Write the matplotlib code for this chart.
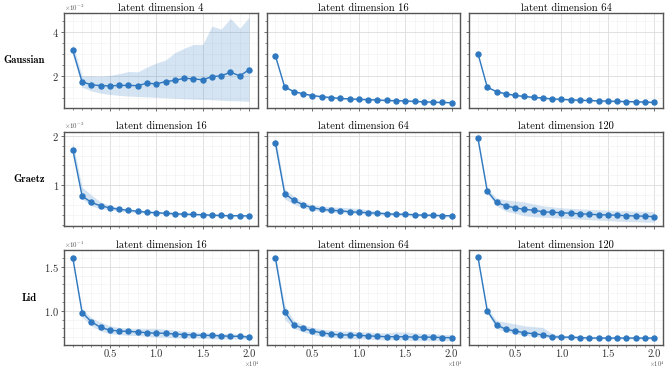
import numpy as np
import matplotlib
matplotlib.use('Agg')
import matplotlib.pyplot as plt
from matplotlib.ticker import AutoMinorLocator, MultipleLocator, FixedLocator

# training set sizes
sizes = [1000, 2000, 3000, 4000, 5000, 6000, 7000, 8000, 9000, 10000,
         11000, 12000, 13000, 14000, 15000, 16000, 17000, 18000, 19000, 20000]

datasets = ['Gaussian', 'Graetz', 'Lid']
dims = [[4, 16, 64], [16, 64, 120], [16, 64, 120]]
exponents = [-2, -2, -1]
ytick_steps = [2, 1, 0.5]
xtick_values = [0.5, 1.0, 1.5, 2.0]

# Gaussian (x1e-2)
gauss4_mean = [3.16, 1.73, 1.60, 1.56, 1.55, 1.57, 1.57, 1.56, 1.67, 1.64,
               1.74, 1.80, 1.89, 1.87, 1.82, 1.97, 2.00, 2.17, 2.00, 2.28]
gauss4_hi = [3.45, 2.00, 2.00, 1.98, 2.02, 2.10, 2.20, 2.18, 2.40, 2.58,
             2.72, 3.05, 3.25, 3.42, 3.42, 4.25, 4.12, 4.60, 4.15, 4.65]
gauss4_lo = [2.95, 1.48, 1.32, 1.22, 1.16, 1.12, 1.09, 1.07, 1.05, 1.03,
             1.01, 0.99, 0.97, 0.95, 0.94, 0.92, 0.90, 0.88, 0.87, 0.85]

gauss16_mean = [2.91, 1.50, 1.29, 1.19, 1.11, 1.06, 1.02, 0.98, 0.96, 0.94,
                0.93, 0.91, 0.89, 0.88, 0.87, 0.85, 0.83, 0.81, 0.80, 0.79]
gauss16_hi = [2.96, 1.55, 1.33, 1.23, 1.15, 1.10, 1.06, 1.02, 1.00, 0.98,
              0.97, 0.95, 0.93, 0.92, 0.91, 0.89, 0.87, 0.85, 0.84, 0.83]
gauss16_lo = [2.86, 1.45, 1.25, 1.15, 1.07, 1.02, 0.98, 0.94, 0.92, 0.90,
              0.89, 0.87, 0.85, 0.84, 0.83, 0.81, 0.79, 0.77, 0.76, 0.75]

gauss64_mean = [3.01, 1.49, 1.29, 1.19, 1.12, 1.07, 1.03, 1.00, 0.96, 0.94,
                0.92, 0.90, 0.89, 0.87, 0.86, 0.85, 0.84, 0.83, 0.82, 0.80]
gauss64_hi = [3.05, 1.53, 1.33, 1.23, 1.16, 1.11, 1.07, 1.04, 1.00, 0.98,
              0.96, 0.94, 0.93, 0.91, 0.90, 0.89, 0.88, 0.87, 0.86, 0.84]
gauss64_lo = [2.97, 1.45, 1.25, 1.15, 1.08, 1.03, 0.99, 0.96, 0.92, 0.90,
              0.88, 0.86, 0.85, 0.83, 0.82, 0.81, 0.80, 0.79, 0.78, 0.76]

# Graetz (x1e-2)
graetz16_mean = [1.72, 0.78, 0.65, 0.58, 0.54, 0.51, 0.49, 0.47, 0.45, 0.44,
                 0.43, 0.42, 0.41, 0.405, 0.40, 0.39, 0.385, 0.38, 0.38, 0.375]
graetz16_hi = [1.87, 0.96, 0.80, 0.66, 0.59, 0.55, 0.52, 0.50, 0.48, 0.47,
               0.46, 0.45, 0.44, 0.43, 0.42, 0.41, 0.41, 0.40, 0.40, 0.40]
graetz16_lo = [1.60, 0.72, 0.58, 0.52, 0.50, 0.47, 0.46, 0.44, 0.43, 0.42,
               0.41, 0.40, 0.39, 0.38, 0.38, 0.37, 0.36, 0.36, 0.36, 0.35]

graetz64_mean = [1.86, 0.83, 0.69, 0.60, 0.54, 0.51, 0.49, 0.48, 0.46, 0.45,
                 0.44, 0.43, 0.42, 0.41, 0.41, 0.40, 0.39, 0.39, 0.38, 0.38]
graetz64_hi = [1.99, 0.93, 0.77, 0.66, 0.60, 0.57, 0.56, 0.55, 0.54, 0.53,
               0.50, 0.47, 0.45, 0.44, 0.43, 0.42, 0.41, 0.41, 0.40, 0.40]
graetz64_lo = [1.75, 0.72, 0.61, 0.54, 0.49, 0.47, 0.45, 0.44, 0.43, 0.42,
               0.41, 0.40, 0.39, 0.38, 0.38, 0.37, 0.37, 0.36, 0.36, 0.35]

graetz120_mean = [1.95, 0.88, 0.65, 0.58, 0.54, 0.51, 0.49, 0.46, 0.45, 0.44,
                  0.43, 0.42, 0.41, 0.40, 0.395, 0.39, 0.38, 0.375, 0.37, 0.36]
graetz120_hi = [2.00, 0.93, 0.74, 0.70, 0.68, 0.66, 0.62, 0.58, 0.56, 0.54,
                0.53, 0.52, 0.51, 0.50, 0.49, 0.48, 0.48, 0.47, 0.47, 0.46]
graetz120_lo = [1.90, 0.83, 0.58, 0.47, 0.43, 0.38, 0.36, 0.35, 0.34, 0.33,
                0.32, 0.31, 0.30, 0.29, 0.28, 0.27, 0.26, 0.26, 0.25, 0.25]

# Lid (x1e-1)
lid16_mean = [1.60, 0.98, 0.876, 0.81, 0.78, 0.77, 0.765, 0.76, 0.75, 0.745,
              0.745, 0.735, 0.73, 0.725, 0.72, 0.72, 0.715, 0.71, 0.71, 0.70]
lid16_hi = [1.62, 1.02, 0.92, 0.87, 0.83, 0.81, 0.80, 0.80, 0.80, 0.80,
            0.79, 0.78, 0.77, 0.76, 0.75, 0.75, 0.74, 0.74, 0.73, 0.73]
lid16_lo = [1.58, 0.93, 0.83, 0.77, 0.74, 0.73, 0.72, 0.72, 0.71, 0.70,
            0.70, 0.69, 0.69, 0.69, 0.69, 0.68, 0.68, 0.68, 0.68, 0.68]

lid64_mean = [1.60, 0.99, 0.84, 0.80, 0.77, 0.75, 0.735, 0.725, 0.725, 0.72,
              0.715, 0.71, 0.705, 0.705, 0.705, 0.70, 0.70, 0.70, 0.695, 0.695]
lid64_hi = [1.64, 1.06, 0.89, 0.84, 0.81, 0.79, 0.78, 0.77, 0.77, 0.76,
            0.76, 0.75, 0.75, 0.76, 0.76, 0.75, 0.74, 0.74, 0.73, 0.73]
lid64_lo = [1.56, 0.90, 0.80, 0.76, 0.73, 0.71, 0.70, 0.69, 0.68, 0.68,
            0.68, 0.67, 0.67, 0.67, 0.67, 0.66, 0.66, 0.66, 0.66, 0.66]

lid120_mean = [1.61, 1.00, 0.84, 0.79, 0.77, 0.75, 0.74, 0.725, 0.705, 0.70,
               0.70, 0.695, 0.69, 0.69, 0.69, 0.69, 0.69, 0.69, 0.69, 0.69]
lid120_hi = [1.63, 1.03, 0.89, 0.87, 0.85, 0.83, 0.82, 0.81, 0.74, 0.72,
             0.72, 0.71, 0.71, 0.71, 0.70, 0.70, 0.70, 0.70, 0.70, 0.70]
lid120_lo = [1.59, 0.97, 0.80, 0.76, 0.74, 0.72, 0.71, 0.70, 0.69, 0.68,
             0.68, 0.68, 0.68, 0.68, 0.68, 0.68, 0.68, 0.68, 0.68, 0.68]

panels = [
    [(gauss4_mean, gauss4_lo, gauss4_hi), (gauss16_mean, gauss16_lo, gauss16_hi),
     (gauss64_mean, gauss64_lo, gauss64_hi)],
    [(graetz16_mean, graetz16_lo, graetz16_hi), (graetz64_mean, graetz64_lo, graetz64_hi),
     (graetz120_mean, graetz120_lo, graetz120_hi)],
    [(lid16_mean, lid16_lo, lid16_hi), (lid64_mean, lid64_lo, lid64_hi),
     (lid120_mean, lid120_lo, lid120_hi)],
]

plt.rcParams['font.family'] = 'serif'
plt.rcParams['font.serif'] = ['cmr10']
plt.rcParams['mathtext.fontset'] = 'cm'
plt.rcParams['axes.formatter.use_mathtext'] = True
plt.rcParams['font.size'] = 7.5

color = '#2f78c0'
edge = '#555555'

fig, axes = plt.subplots(3, 3, figsize=(6.69, 3.69), dpi=100, sharex=True, sharey='row')
fig.subplots_adjust(left=64 / 669, right=663 / 669, top=1 - 13 / 369, bottom=1 - 345 / 369,
                    wspace=0.045, hspace=0.25)

x = np.array(sizes) / 1e4
for i in range(3):
    for j in range(3):
        ax = axes[i, j]
        mean, lo, hi = panels[i][j]
        # values already in scaled units, the factor goes in a corner label
        ax.fill_between(x, lo, hi, color=color, alpha=0.2, lw=0)
        ax.plot(x, mean, '-o', color=color, lw=1.0, ms=3.6)
        ax.set_title(f'latent dimension {dims[i][j]}', fontsize=7.6, pad=1.5)

        ax.xaxis.set_major_locator(FixedLocator(xtick_values))
        ax.xaxis.set_minor_locator(MultipleLocator(0.1))
        ax.yaxis.set_major_locator(MultipleLocator(ytick_steps[i]))
        ax.yaxis.set_minor_locator(AutoMinorLocator())
        ax.grid(which='major', color='#dcdcdc', lw=0.6)
        ax.grid(which='minor', color='#efefef', lw=0.4)
        ax.set_axisbelow(True)
        for sp in ax.spines.values():
            sp.set_color(edge)
            sp.set_linewidth(1.0)
        ax.tick_params(which='both', direction='out', color=edge, labelsize=7.6,
                       labelcolor='#333333', pad=1)
        ax.tick_params(which='major', length=2.5, width=0.6)
        ax.tick_params(which='minor', length=1.5, width=0.5)

        if j == 0:
            ax.text(0.0, 1.005, r'$\times10^{%d}$' % exponents[i], transform=ax.transAxes,
                    ha='left', va='bottom', fontsize=5, color='#555555')
        if i == 2:
            ax.text(2.03, -0.15, r'$\times10^{4}$', transform=ax.get_xaxis_transform(),
                    ha='center', va='top', fontsize=4.6, color='#555555')

    axes[i, 0].set_ylabel(datasets[i], rotation=0, ha='right', va='center',
                          fontfamily='cmb10', fontsize=7.6, labelpad=5)

axes[0, 0].set_xlim(0.005, 2.095)
axes[2, 0].xaxis.set_major_formatter(plt.FuncFormatter(lambda v, p: f'{v:.1f}'))

plt.savefig('out.png', dpi=100)
